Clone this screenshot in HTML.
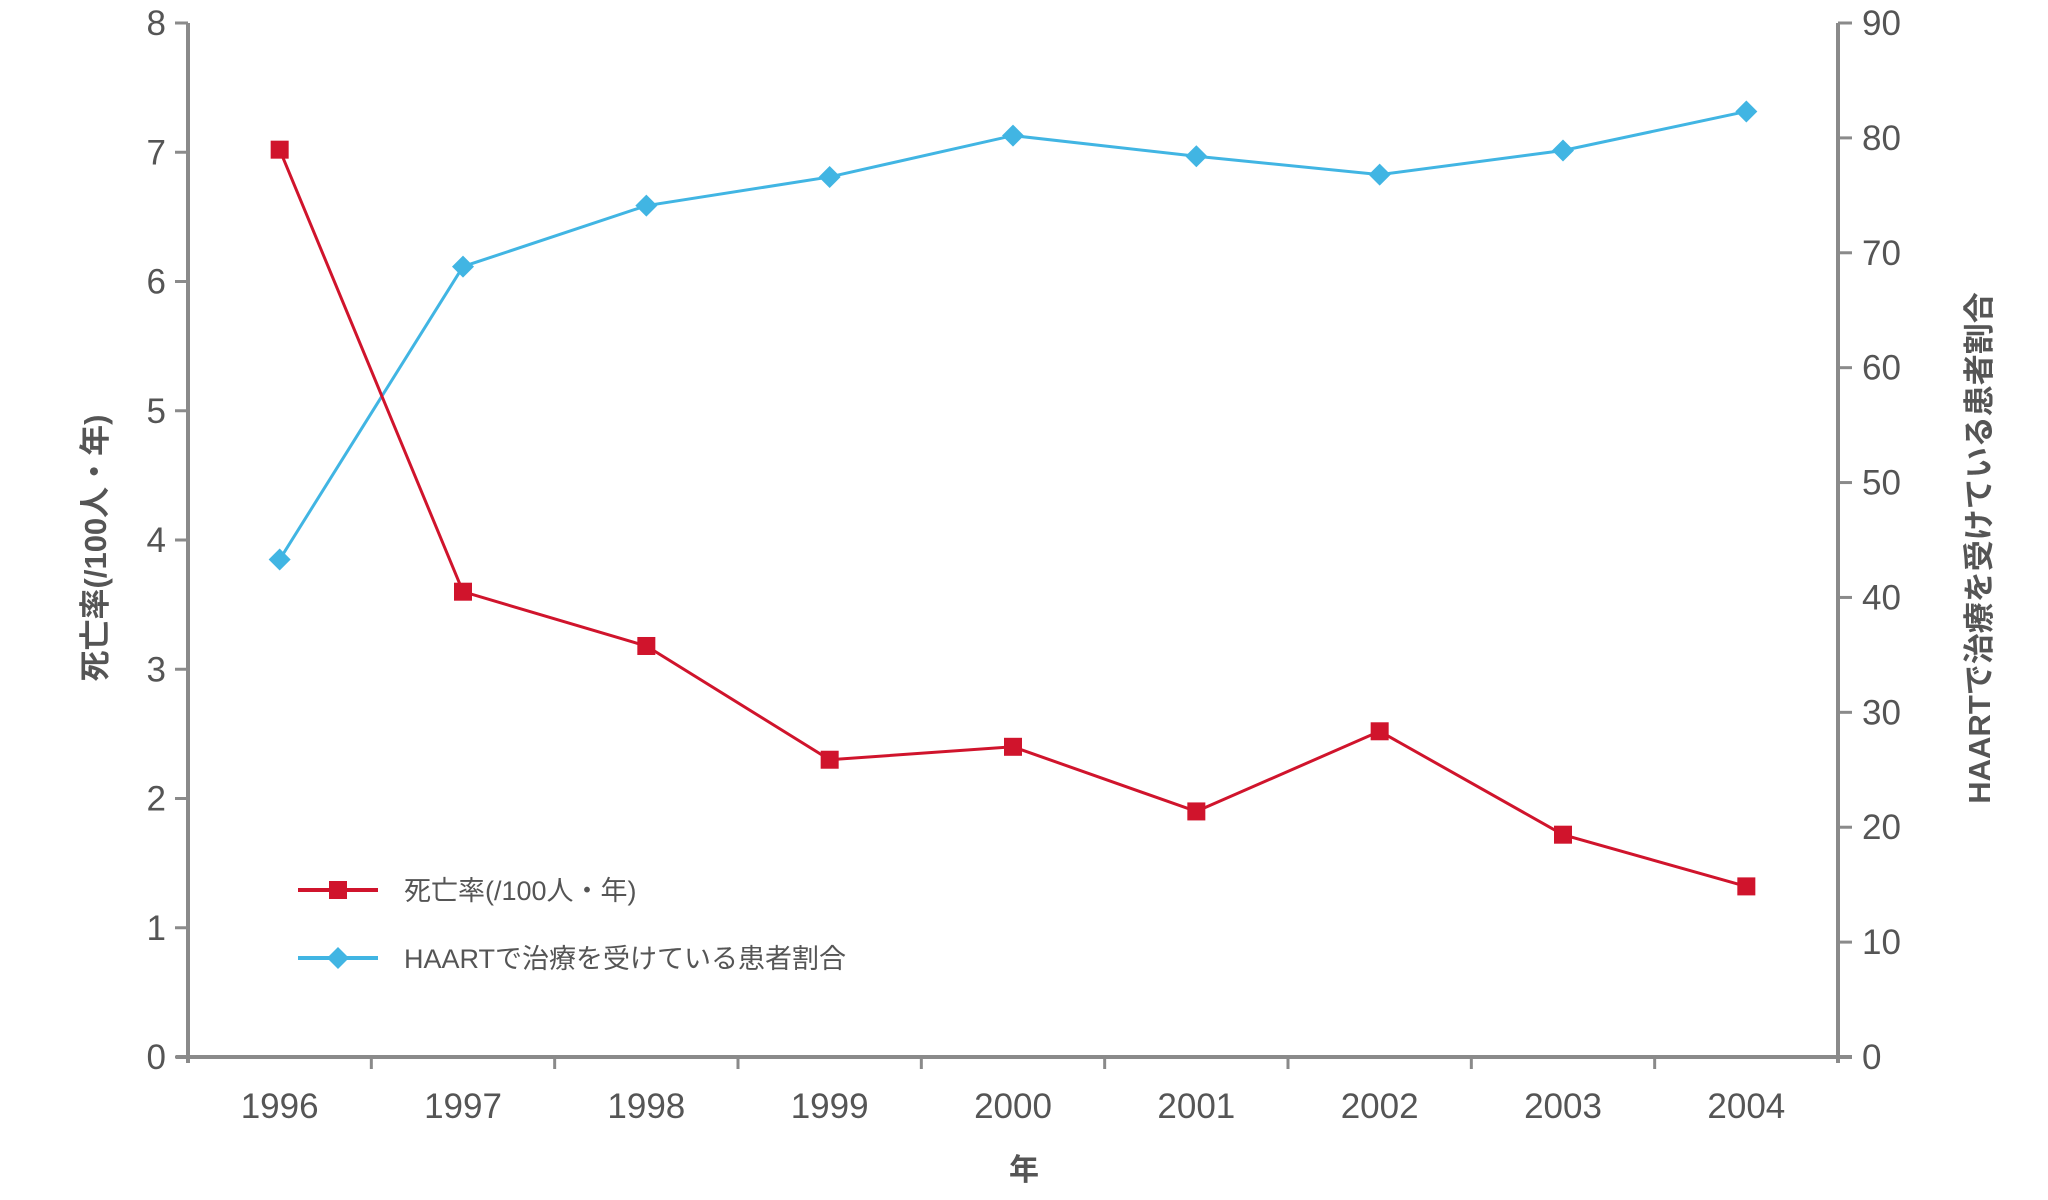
<!DOCTYPE html>
<html><head><meta charset="utf-8"><style>
body{margin:0;background:#fff;}
svg text{font-family:"Liberation Sans","Noto Sans CJK JP",sans-serif;fill:#555;}
</style></head><body>
<svg id="chart" width="2048" height="1195" viewBox="0 0 2048 1195" xmlns="http://www.w3.org/2000/svg">
<g id="axes"></g>
<g id="series"></g>
<g id="legend"></g>
</svg>
<script>
const categories=["1996","1997","1998","1999","2000","2001","2002","2003","2004"];
const mortality=[7.02,3.6,3.18,2.3,2.4,1.9,2.52,1.72,1.32];
const haartPct=[43.3,68.8,74.1,76.6,80.2,78.4,76.8,78.9,82.3];
const leftTicks=[0,1,2,3,4,5,6,7,8];
const rightTicks=[0,10,20,30,40,50,60,70,80,90];

const NS="http://www.w3.org/2000/svg";
const X0=188,X1=1838,Y0=1057,Y1=23;
const bw=(X1-X0)/categories.length;
const xPos=i=>X0+bw*(i+0.5);
const yL=v=>Y0-(v/8)*(Y0-Y1);
const yR=v=>Y0-(v/90)*(Y0-Y1);
function mk(tag,attrs,parent,text){const e=document.createElementNS(NS,tag);for(const k in attrs)e.setAttribute(k,attrs[k]);if(text!==undefined)e.textContent=text;parent.appendChild(e);return e;}
const axes=document.getElementById('axes'),series=document.getElementById('series'),legend=document.getElementById('legend');
const AX="#8a8a8a";
let e;
e=mk('line',{x1:X0,y1:Y1,x2:X0,y2:Y0+6,stroke:AX,'stroke-width':4},axes);


e=mk('line',{x1:X1,y1:Y1,x2:X1,y2:Y0+6,stroke:AX,'stroke-width':4},axes);


e=mk('line',{x1:X0-12,y1:Y0,x2:X1+14,y2:Y0,stroke:AX,'stroke-width':4},axes);


leftTicks.forEach(v=>{
  mk('line',{x1:X0-13,y1:yL(v),x2:X0,y2:yL(v),stroke:AX,'stroke-width':3},axes);
  e=mk('text',{x:X0-22,y:yL(v)+12,'font-size':35,'text-anchor':'end'},axes,String(v));
  
  
});
rightTicks.forEach(v=>{
  mk('line',{x1:X1,y1:yR(v),x2:X1+14,y2:yR(v),stroke:AX,'stroke-width':3},axes);
  e=mk('text',{x:X1+24,y:yR(v)+12,'font-size':35,'text-anchor':'start'},axes,String(v));
  
  
});
categories.forEach((c,i)=>{
  if(i>0)mk('line',{x1:X0+bw*i,y1:Y0,x2:X0+bw*i,y2:Y0+12,stroke:AX,'stroke-width':3},axes);
  e=mk('text',{x:xPos(i),y:1118,'font-size':35,'text-anchor':'middle'},axes,c);
  
  
});
e=mk('text',{x:1024,y:1180,'font-size':30,'text-anchor':'middle','font-weight':'bold'},axes,'年');


e=mk('text',{x:0,y:0,'font-size':31,'text-anchor':'middle','font-weight':'bold',transform:'translate(106,548) rotate(-90)'},axes,'死亡率(/100人・年)');


e=mk('text',{x:0,y:0,'font-size':31,'text-anchor':'middle','font-weight':'bold',transform:'translate(1990,548) rotate(-90)'},axes,'HAARTで治療を受けている患者割合');



const RED="#d0142c",BLUE="#41b5e3";
e=mk('polyline',{points:haartPct.map((v,i)=>xPos(i)+','+yR(v)).join(' '),fill:'none',stroke:BLUE,'stroke-width':3},series);


e=mk('polyline',{points:mortality.map((v,i)=>xPos(i)+','+yL(v)).join(' '),fill:'none',stroke:RED,'stroke-width':3},series);


haartPct.forEach((v,i)=>{
  const x=xPos(i),y=yR(v);
  e=mk('polygon',{points:`${x},${y-11} ${x+11},${y} ${x},${y+11} ${x-11},${y}`,fill:BLUE},series);
  
  
});
mortality.forEach((v,i)=>{
  const x=xPos(i),y=yL(v);
  e=mk('rect',{x:x-9,y:y-9,width:18,height:18,fill:RED},series);
  
  
});
mk('line',{x1:298,y1:890,x2:378,y2:890,stroke:RED,'stroke-width':4},legend);
mk('rect',{x:329,y:881,width:18,height:18,fill:RED},legend);
e=mk('text',{x:404,y:900,'font-size':27},legend,'死亡率(/100人・年)');


mk('line',{x1:298,y1:958,x2:378,y2:958,stroke:BLUE,'stroke-width':4},legend);
mk('polygon',{points:'338,947 349,958 338,969 327,958',fill:BLUE},legend);
e=mk('text',{x:404,y:968,'font-size':27},legend,'HAARTで治療を受けている患者割合');


</script>
</body></html>
